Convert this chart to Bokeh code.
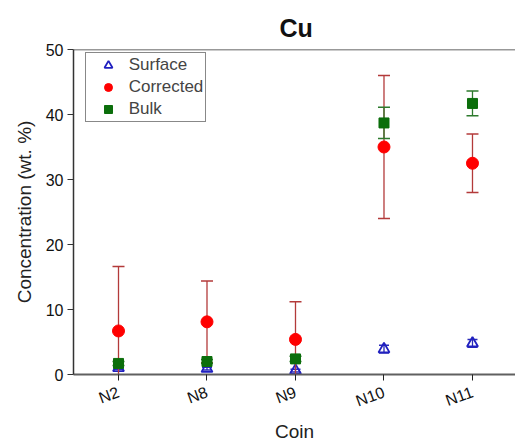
import numpy as np
from bokeh.plotting import figure
from bokeh.models import Range1d, FixedTicker, Span, Legend, LegendItem, Title
from bokeh.embed import file_html
from bokeh.resources import INLINE

# ---- data ----
coins = ["N2", "N8", "N9", "N10", "N11"]
surface = [1.0, 0.9, 0.6, 3.9, 4.8]
surface_err = [0.2, 0.2, 0.2, 0.6, 0.6]
corrected = [6.7, 8.1, 5.4, 35.0, 32.5]
corrected_err = [9.9, 6.3, 5.8, 11.0, 4.5]
bulk = [1.7, 2.0, 2.4, 38.7, 41.7]
bulk_err = [0.3, 0.3, 0.4, 2.4, 1.9]
y_ticks = [0, 10, 20, 30, 40, 50]

FONT = "Liberation Sans"
x = list(range(1, len(coins) + 1))

p = figure(width=515, height=444, output_backend="svg", toolbar_location=None,
           x_range=Range1d(0.4915, 5.486), y_range=Range1d(0, 50),
           min_border_left=73, min_border_right=0, min_border_top=49, min_border_bottom=70)
p.outline_line_color = None
p.grid.grid_line_color = None
p.background_fill_color = "white"

t = Title(text="Cu", text_font=FONT, text_font_size="25px", text_font_style="bold",
          align="left", offset=206, standoff=16, text_color="#111111")
p.add_layout(t, "above")

p.add_layout(Span(location=50, dimension="width", line_color="#333333", line_width=1.5))


def errbars(vals, errs, color, cap):
    v = np.array(vals, dtype=float)
    e = np.array(errs, dtype=float)
    p.segment(x0=x, y0=v - e, x1=x, y1=v + e, line_color=color, line_width=1.3)
    p.scatter(x, v + e, marker="dash", size=cap, line_color=color, line_width=1.5)
    p.scatter(x, v - e, marker="dash", size=cap, line_color=color, line_width=1.5)


errbars(surface, surface_err, "#2a2ab8", 10)
r_s = p.scatter(x, surface, marker="triangle", size=11, line_color="#2020c0",
                fill_color=None, line_width=1.8)
errbars(corrected, corrected_err, "#b33a3a", 12)
r_c = p.scatter(x, corrected, marker="circle", size=12, line_color="#ff0000",
                fill_color="#ff0000")
errbars(bulk, bulk_err, "#2d7a2d", 12)
r_b = p.scatter(x, bulk, marker="square", size=10, line_color="#0b6e0b",
                fill_color="#0b6e0b")

# axes
xa = p.xaxis[0]
xa.ticker = FixedTicker(ticks=x)
xa.major_label_overrides = {i: c for i, c in zip(x, coins)}
xa.major_label_orientation = 0.35
xa.minor_tick_line_color = None
xa.axis_line_color = "#606060"
xa.axis_line_width = 2
xa.major_tick_line_color = "#222222"
xa.major_tick_in = 0
xa.major_tick_out = 6
xa.major_label_standoff = 11
xa.major_label_text_font = FONT
xa.major_label_text_font_size = "16px"
xa.major_label_text_color = "#111111"
xa.axis_label = "Coin"
xa.axis_label_text_font = FONT
xa.axis_label_text_font_size = "19px"
xa.axis_label_text_font_style = "normal"
xa.axis_label_text_color = "#222222"
xa.axis_label_standoff = 0

ya = p.yaxis[0]
ya.ticker = FixedTicker(ticks=y_ticks)
ya.minor_tick_line_color = None
ya.axis_line_color = "#333333"
ya.axis_line_width = 1.5
ya.major_tick_line_color = "#333333"
ya.major_tick_in = 0
ya.major_tick_out = 6
ya.major_label_standoff = 4
ya.major_label_text_font = FONT
ya.major_label_text_font_size = "16px"
ya.major_label_text_color = "#111111"
ya.axis_label = "Concentration (wt. %)"
ya.axis_label_text_font = FONT
ya.axis_label_text_font_size = "19px"
ya.axis_label_text_font_style = "normal"
ya.axis_label_text_color = "#222222"
ya.axis_label_standoff = 8

legend = Legend(items=[LegendItem(label="Surface", renderers=[r_s]),
                       LegendItem(label="Corrected", renderers=[r_c]),
                       LegendItem(label="Bulk", renderers=[r_b])],
                location=(11.7, 252), padding=2, spacing=2,
                glyph_width=40, glyph_height=20, label_height=20, label_standoff=1,
                label_text_font=FONT, label_text_font_size="17px",
                border_line_color="#111111", border_line_width=1.2,
                background_fill_alpha=1, margin=0)
p.add_layout(legend, "center")

open("out.html", "w").write(file_html(p, INLINE))
